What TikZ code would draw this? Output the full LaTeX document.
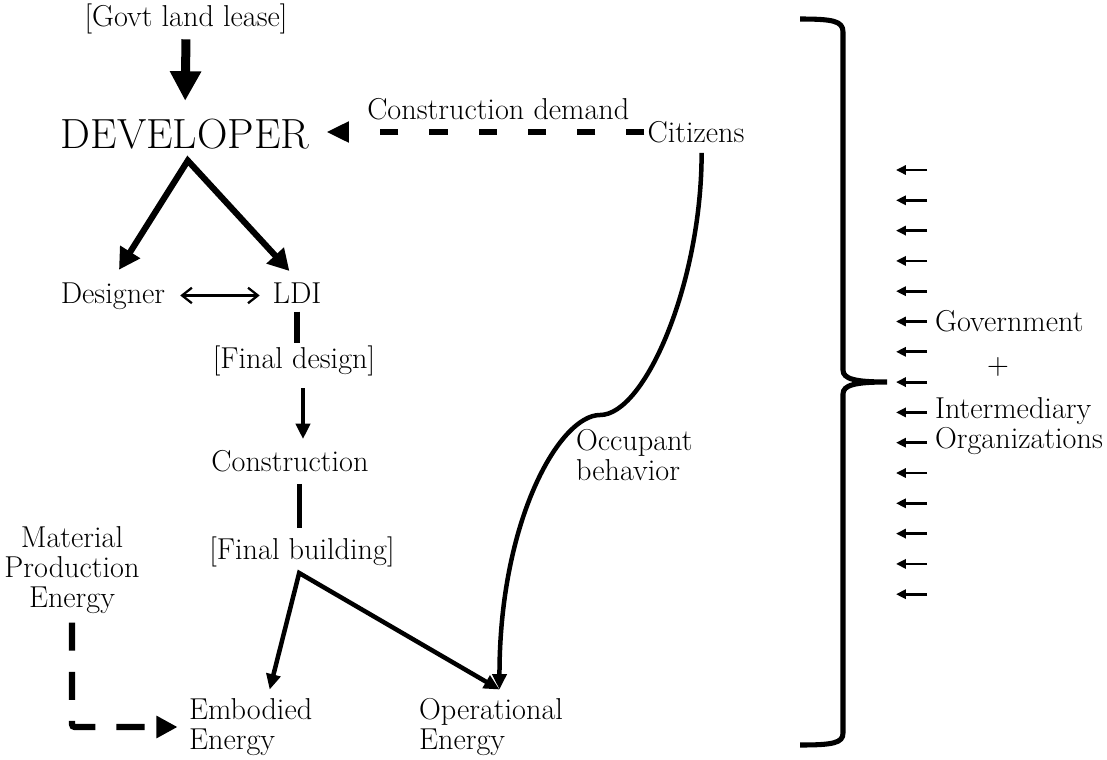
\documentclass[tikz,border=0pt]{standalone}
\usepackage{tikz}
\usetikzlibrary{arrows.meta}

\begin{document}
\begin{tikzpicture}[x=0.025cm,y=-0.025cm,
  txt/.style={font=\fontsize{21.5}{21.5}\selectfont,inner sep=2pt},
  heavy/.style={line width=6.4pt,-{Triangle[length=21pt,width=21pt]}},
  fork/.style={line width=4.4pt,{Triangle[length=15pt,width=16pt]}-{Triangle[length=15pt,width=16pt]}},
  link/.style={line width=3.2pt,-{Triangle[length=11pt,width=10pt]}},
  linkfork/.style={line width=3.2pt,{Triangle[length=11pt,width=10pt]}-{Triangle[length=11pt,width=10pt]}},
  demandline/.style={line width=4.5pt,dash pattern=on 13pt off 22pt,-{Triangle[length=16pt,width=14pt]}},
  matline/.style={line width=4.5pt,dash pattern=on 20pt off 15pt,rounded corners=2pt,-{Triangle[length=15pt,width=15pt]}},
  tick/.style={line width=2pt,-{Triangle[length=7pt,width=6.5pt]}}]
  \useasboundingbox (0,0) rectangle (1107,759);

  % actors and stages
  \node[txt] (govt) at (186,19) {[Govt land lease]};
  \node[font=\fontsize{30}{32}\selectfont,inner sep=2pt] (dev) at (185,134) {DEVELOPER};
  \node[txt] (cit) at (696,132) {Citizens};
  \node[txt,anchor=base] (des) at (113,303) {Designer};
  \node[txt,anchor=base] (ldi) at (297,303) {LDI};
  \node[txt] (fdes) at (294,361) {[Final design]};
  \node[txt] (cons) at (290,461) {Construction};
  \node[txt] (fbld) at (302,552) {[Final building]};
  \node[txt,align=center] (matl) at (72,570) {Material\\Production\\Energy};
  \node[txt,align=left,anchor=west] (emb) at (186,727) {Embodied\\Energy};
  \node[txt,align=left,anchor=west] (oper) at (416,727) {Operational\\Energy};
  \node[txt,align=left,anchor=west] (occ) at (573,455) {Occupant\\behavior};

  % government side
  \node[txt,anchor=west] (gov) at (932,321) {Government};
  \node[txt] (plus) at (998,367) {+};
  \node[txt,anchor=west] (inter) at (932,411) {Intermediary};
  \node[txt,anchor=west] (org) at (932,441) {Organizations};

  \coordinate (devfork) at ([xshift=2pt,yshift=-6pt]dev.south);
  \coordinate (apex) at ([xshift=-2pt,yshift=-2pt]fbld.south);
  \coordinate (embin) at ([xshift=13.5pt,yshift=4pt]emb.north);
  \coordinate (opin) at ([xshift=6pt,yshift=4pt]oper.north);
  \coordinate (bend) at (600,415);

  % connectors
  \draw[heavy,shorten <=1.5pt,shorten >=10.7pt] (govt.south) -- (dev.north);
  \draw[demandline,shorten >=10pt] (cit.west) -- (cit.west -| dev.east)
    node[txt,pos=0.44,above=4pt] (dem) {Construction demand};
  \draw[fork,shorten <=8pt,shorten >=8pt] (des.north) -- (devfork) -- (ldi.north);
  \draw[line width=1.6pt,{Straight Barb[length=7pt,width=11pt]}-{Straight Barb[length=7pt,width=11pt]},
    shorten <=8.5pt,shorten >=7pt] ([yshift=3.2pt]des.mid east) -- ([yshift=3.2pt]ldi.mid west);
  \draw[line width=3.6pt,shorten <=4pt] (ldi.south) -- (ldi.south |- fdes.north);
  \draw[link,shorten <=6.4pt,shorten >=5.7pt] ([xshift=6.4pt]fdes.south) -- ([xshift=6.4pt]fdes.south |- cons.north);
  \draw[line width=3.6pt,shorten <=6.4pt,shorten >=4.3pt] ([xshift=7pt]cons.south) -- ([xshift=7pt]cons.south |- fbld.north);
  \draw[linkfork] (embin) -- (apex) -- (opin);
  \draw[link] ([xshift=4pt,yshift=-5pt]cit.south) .. controls +(0,130) and +(45,0) .. (bend)
    .. controls +(-40,0) and +(0,-170) .. (opin);
  \draw[matline,shorten <=4pt,shorten >=6pt] (matl.south) |- (emb.west);

  % brace
  \draw[line width=3.6pt] (800,19) .. controls (833,19) and (843,21) .. (843,32) -- (843,370)
    .. controls (843,379) and (855,382) .. (887,382) .. controls (855,382) and (843,385) .. (843,394)
    -- (843,733) .. controls (843,743) and (833,745) .. (800,745);
  \foreach \i in {0,...,14}
    \draw[tick] (927,{170+30.3*\i}) -- (896,{170+30.3*\i});
\end{tikzpicture}
\end{document}
